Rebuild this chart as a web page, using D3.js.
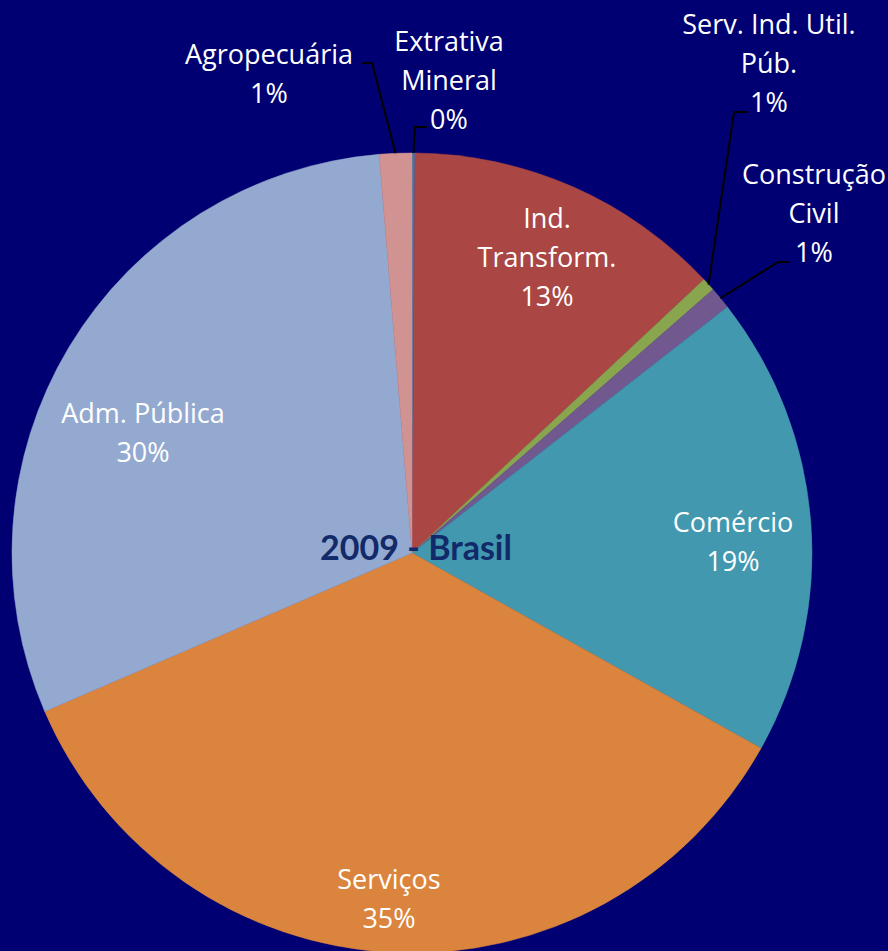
<!DOCTYPE html>
<html>
<head>
<meta charset="utf-8">
<script src="https://cdn.jsdelivr.net/npm/d3@7"></script>
<style>
  html, body { margin: 0; padding: 0; background: #000073; overflow: hidden; }
  svg { display: block; }
</style>
</head>
<body>
<script>
// Sector shares of Brazil's economy, 2009 (per cent), clockwise from 12 o'clock
const sectors = ["Extrativa Mineral", "Ind. Transform.", "Serv. Ind. Util. Púb.", "Construção Civil",
                 "Comércio", "Serviços", "Adm. Pública", "Agropecuária"];
const shares = [0.12, 12.9, 0.54, 0.90, 18.66, 35.40, 30.17, 1.31];
const colors = ["#4572A7", "#AA4643", "#89A54E", "#71588F", "#4198AF", "#DB843D", "#93A9CF", "#D19392"];
// Label text split into lines
const labelLines = [["Extrativa", "Mineral"], ["Ind.", "Transform."], ["Serv. Ind. Util.", "Púb."],
                    ["Construção", "Civil"], ["Comércio"], ["Serviços"], ["Adm. Pública"], ["Agropecuária"]];
const title = "2009 - Brasil";

const W = 888, H = 951;
const cx = 412, cy = 553, R = 400;
const lineH = 39;

// Label layout: centre x, first-line centre y, and optional leader elbow (outside labels)
const labelLayout = [
  { x: 449, y: 42, elbow: [427, 415, 127] },
  { x: 547, y: 219 },
  { x: 769, y: 25, elbow: [747, 734, 112] },
  { x: 814, y: 175, elbow: [790, 778, 262] },
  { x: 733, y: 523 },
  { x: 389, y: 880 },
  { x: 143, y: 414 },
  { x: 269, y: 55, elbow: [362, 372, 63] }
];

const svg = d3.select("body").append("svg").attr("width", W).attr("height", H);

const data = sectors.map((s, i) => ({ name: s, value: shares[i], color: colors[i], lines: labelLines[i], layout: labelLayout[i] }));

const pie = d3.pie().value(d => d.value).sort(null);
const arc = d3.arc().innerRadius(0).outerRadius(R);
const arcs = pie(data);

const g = svg.append("g").attr("transform", `translate(${cx},${cy})`);
g.selectAll("path.slice").data(arcs).join("path")
  .attr("class", "slice")
  .attr("d", arc)
  .attr("fill", d => d.data.color)
  .attr("stroke", d => d.data.color)
  .attr("stroke-width", 0.5);

// Leader lines for the thin slices
const edgePoint = d => {
  const a = (d.startAngle + d.endAngle) / 2;
  return [cx + R * Math.sin(a), cy - R * Math.cos(a)];
};
svg.selectAll("path.leader").data(arcs.filter(d => d.data.layout.elbow)).join("path")
  .attr("class", "leader")
  .attr("fill", "none")
  .attr("stroke", "#000")
  .attr("stroke-width", 2)
  .attr("d", d => {
    const [x0, x1, y] = d.data.layout.elbow;
    const [ex, ey] = edgePoint(d);
    return `M${x0},${y}L${x1},${y}L${ex},${ey}`;
  });

const pct = d3.format(".0f");
const labels = svg.selectAll("text.lbl").data(arcs).join("text")
  .attr("class", "lbl")
  .attr("text-anchor", "middle")
  .attr("fill", "#ffffff")
  .attr("font-family", "'Open Sans', Lato, sans-serif")
  .attr("font-size", 27);
labels.each(function(d) {
  const lines = d.data.lines.concat([pct(d.data.value) + "%"]);
  const t = d3.select(this);
  lines.forEach((l, i) => {
    t.append("tspan")
      .attr("x", d.data.layout.x)
      .attr("y", d.data.layout.y + i * lineH)
      .attr("dy", "0.35em")
      .text(l);
  });
});

svg.append("text")
  .attr("x", 416).attr("y", 548).attr("dy", "0.35em")
  .attr("text-anchor", "middle")
  .attr("fill", "#12296A")
  .attr("font-family", "Lato, 'Open Sans', sans-serif")
  .attr("font-weight", "bold")
  .attr("font-size", 34)
  .text(title);
</script>
</body>
</html>
